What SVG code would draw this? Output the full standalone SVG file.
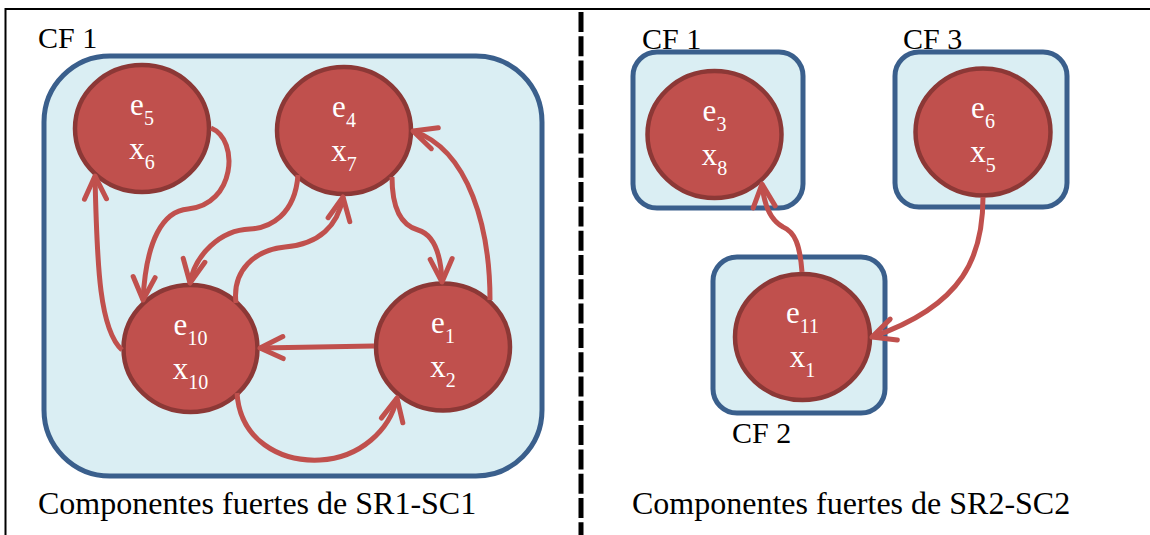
<svg xmlns="http://www.w3.org/2000/svg" width="1150" height="535" viewBox="0 0 1150 535">
<style>
.frame{stroke:#000;stroke-width:2;fill:none}
.divider{stroke:#000;stroke-width:5;stroke-dasharray:20 4.3;fill:none}
.cf{fill:#DAEEF3;stroke:#3A5F8C;stroke-width:5}
.node{fill:#C0504D;stroke:#8C3836;stroke-width:4.5}
.lbl{font-family:"Liberation Serif","Times New Roman",serif;fill:#000}
.nt{font-family:"Liberation Serif","Times New Roman",serif;font-size:31px;fill:#FFF;text-anchor:middle}
.sub{font-size:20px}
.edge{fill:none;stroke:#C0504D;stroke-width:5;stroke-linecap:butt;marker-end:url(#ah)}
</style>
<defs>
<marker id="ah" markerUnits="userSpaceOnUse" orient="auto" refX="0" refY="0" markerWidth="40" markerHeight="40" style="overflow:visible">
<path d="M-23,-11 L0,0 L-23,11" fill="none" stroke="#C0504D" stroke-width="5" stroke-linecap="round" stroke-linejoin="round"/>
</marker>
</defs>

<g id="frame">
<line class="frame" x1="5.5" y1="9" x2="1150" y2="9"/>
<line class="frame" x1="5.5" y1="8" x2="5.5" y2="535"/>
<line class="divider" x1="581" y1="12" x2="581" y2="535"/>
</g>

<g id="left-panel">
<g id="cf1-left">
<rect class="cf" x="44" y="56" width="498" height="420" rx="66" ry="66"/>
<text class="lbl" x="38" y="48" font-size="30">CF 1</text>
</g>
</g>

<g id="right-panel">
<g id="cf1-right">
<rect class="cf" x="633" y="52" width="170" height="156" rx="24" ry="24"/>
<text class="lbl" x="642" y="49" font-size="30">CF 1</text>
</g>
<g id="cf3-right">
<rect class="cf" x="895" y="52" width="172" height="155" rx="24" ry="24"/>
<text class="lbl" x="903" y="49" font-size="30">CF 3</text>
</g>
<g id="cf2-right">
<rect class="cf" x="713" y="257" width="172" height="156" rx="24" ry="24"/>
<text class="lbl" x="732" y="443" font-size="30">CF 2</text>
</g>
</g>

<g id="n-e5">
<ellipse class="node" cx="142" cy="128.5" rx="67" ry="63.5"/>
<text class="nt" x="142" y="114.5">e<tspan class="sub" dy="10">5</tspan></text>
<text class="nt" x="142" y="158.5">x<tspan class="sub" dy="10">6</tspan></text>
</g>
<g id="n-e4">
<ellipse class="node" cx="344" cy="130.5" rx="67" ry="63.5"/>
<text class="nt" x="344" y="116.5">e<tspan class="sub" dy="10">4</tspan></text>
<text class="nt" x="344" y="160.5">x<tspan class="sub" dy="10">7</tspan></text>
</g>
<g id="n-e10">
<ellipse class="node" cx="190.5" cy="348.5" rx="67" ry="63.5"/>
<text class="nt" x="190.5" y="334.5">e<tspan class="sub" dy="10">10</tspan></text>
<text class="nt" x="190.5" y="378.5">x<tspan class="sub" dy="10">10</tspan></text>
</g>
<g id="n-e1">
<ellipse class="node" cx="443" cy="347" rx="67" ry="63.5"/>
<text class="nt" x="443" y="333">e<tspan class="sub" dy="10">1</tspan></text>
<text class="nt" x="443" y="377">x<tspan class="sub" dy="10">2</tspan></text>
</g>
<g id="n-e3">
<ellipse class="node" cx="714.5" cy="134.5" rx="67" ry="63.5"/>
<text class="nt" x="714.5" y="120.5">e<tspan class="sub" dy="10">3</tspan></text>
<text class="nt" x="714.5" y="164.5">x<tspan class="sub" dy="10">8</tspan></text>
</g>
<g id="n-e6">
<ellipse class="node" cx="983" cy="132" rx="67.5" ry="63.5"/>
<text class="nt" x="983" y="118">e<tspan class="sub" dy="10">6</tspan></text>
<text class="nt" x="983" y="162">x<tspan class="sub" dy="10">5</tspan></text>
</g>
<g id="n-e11">
<ellipse class="node" cx="802.5" cy="337" rx="67.5" ry="63"/>
<text class="nt" x="802.5" y="323">e<tspan class="sub" dy="10">11</tspan></text>
<text class="nt" x="802.5" y="367">x<tspan class="sub" dy="10">1</tspan></text>
</g>

<g id="connectors">
<path class="edge" d="M211,128 C240,140 235,205 188,209 C163,211 146,240 143,300"/>
<path class="edge" d="M122,350 C100,330 97,270 95,176"/>
<path class="edge" d="M374,346 L260,348"/>
<path class="edge" d="M237,393 C240,440 280,462 320,460 C360,458 390,430 397,398"/>
<path class="edge" d="M236,303 C232,270 255,250 285,247 C320,244 338,225 343,197"/>
<path class="edge" d="M298,175 C295,215 270,228 250,229 C220,230 195,255 190,283"/>
<path class="edge" d="M392,177 C392,205 400,225 418,230 C435,235 441,255 442,282"/>
<path class="edge" d="M490,300 C490,230 470,150 413,131"/>
<path class="edge" d="M802,272 C800,245 795,232 783,227 C770,220 764,205 762,184"/>
<path class="edge" d="M983,197 C983,255 965,305 872,337"/>
</g>

<g id="captions">
<text class="lbl" x="38" y="514" font-size="32">Componentes fuertes de SR1-SC1</text>
<text class="lbl" x="632" y="514" font-size="32">Componentes fuertes de SR2-SC2</text>
</g>
</svg>
